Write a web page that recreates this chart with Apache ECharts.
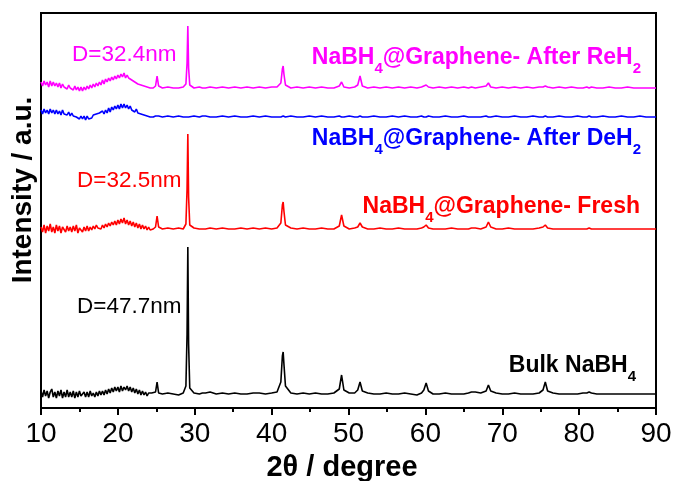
<!DOCTYPE html>
<html>
<head>
<meta charset="utf-8">
<script src="https://cdn.jsdelivr.net/npm/echarts@6/dist/echarts.min.js"></script>
<style>html,body{margin:0;padding:0;background:#fff}#c{width:677px;height:481px}</style>
</head>
<body>
<div id="c"></div>
<script>
// 2θ grid (degrees), shared by all patterns
const twoTheta = [
  10.0,10.2,10.4,10.6,10.8,11.0,11.2,11.4,11.6,11.8,
  12.0,12.2,12.4,12.6,12.8,13.0,13.2,13.4,13.6,13.8,
  14.0,14.2,14.4,14.6,14.8,15.0,15.2,15.4,15.6,15.8,
  16.0,16.2,16.4,16.6,16.8,17.0,17.2,17.4,17.6,17.8,
  18.0,18.2,18.4,18.6,18.8,19.0,19.2,19.4,19.6,19.8,
  20.0,20.2,20.4,20.6,20.8,21.0,21.2,21.4,21.6,21.8,
  22.0,22.2,22.4,22.6,22.8,23.0,23.2,23.4,23.6,23.8,
  24.0,24.2,24.4,24.6,24.9,25.1,25.3,25.8,26.5,27.2,
  27.9,28.5,28.85,29.0,29.1,29.2,29.35,29.9,30.6,31.0,
  31.2,31.4,32.0,32.8,33.6,34.4,35.2,36.0,36.8,37.6,
  38.4,39.2,40.0,40.7,41.2,41.4,41.5,41.6,41.8,42.5,
  43.3,44.1,44.9,45.7,46.5,47.3,48.1,48.8,49.1,49.4,
  50.1,50.8,51.2,51.5,51.8,52.5,53.3,54.1,54.9,55.7,
  56.5,57.3,58.1,58.9,59.5,59.8,60.1,60.4,61.0,61.8,
  62.6,63.4,64.2,65.0,65.6,66.0,66.2,66.5,67.2,67.9,
  68.2,68.5,69.2,70.0,70.8,71.6,72.4,73.2,74.0,74.8,
  75.3,75.6,75.9,76.6,77.4,78.2,79.0,79.8,80.5,81.0,
  81.3,81.6,82.3,83.1,83.9,84.7,85.5,86.3,87.1,87.9,
  88.7,89.4,90.0
];

// Bulk NaBH4 intensity (a.u.)
const bulkIntensity = [
  3,-3,4,-2,3,-4,2,5,-3,2,
  -4,3,-2,4,-4,2,-3,4,-3,2,
  -3,3,-4,2,-3,3,-2,-4,2,-3,
  2,-3,3,-2,1,-3,2,-2,3,-1,
  3,-1,4,0,5,1,6,2,7,3,
  7,2,8,3,7,4,8,3,7,2,
  6,1,5,0,4,-1,3,-1,2,-2,
  1,-1,1,0,2,12,1,0,1,0,
  -1,1,8,60,147,50,6,1,0,1,
  3,1,2,0,1,0,1,0,0,1,
  1,0,1,2,12,38,42,30,8,1,
  0,1,0,1,0,0,1,5,19,4,
  1,1,4,12,3,1,0,0,1,0,
  0,1,0,-1,1,4,11,3,0,0,
  1,0,0,0,1,2,3,2,1,3,
  9,3,1,0,0,1,0,0,0,1,
  4,12,3,1,0,0,0,0,1,1,
  2,1,0,0,0,0,0,0,0,0,
  0,0,0
];

// NaBH4@Graphene - Fresh
const freshIntensity = [
  2,-3,4,-4,3,-2,5,-3,2,-4,
  4,-2,3,-4,2,4,-3,3,-2,2,
  -3,3,-2,4,-4,1,3,-3,2,-2,
  3,-2,2,-1,3,0,4,1,3,0,
  4,1,5,2,6,3,7,4,8,4,
  9,5,10,6,11,5,9,4,8,3,
  7,2,6,1,5,0,4,0,3,-1,
  2,-1,1,0,2,13,2,0,1,0,
  1,0,5,40,95,32,4,1,0,0,
  1,0,1,0,1,0,0,1,0,1,
  0,1,0,1,6,24,27,18,4,1,
  0,1,0,0,1,0,0,3,14,3,
  0,1,2,6,2,0,0,1,0,0,
  1,0,0,0,1,2,4,1,0,0,
  0,1,0,0,0,1,2,1,0,2,
  7,2,0,0,1,0,0,0,0,1,
  2,4,1,0,0,0,0,0,0,0,
  1,0,0,0,0,0,0,0,0,0,
  0,0,0
];

// NaBH4@Graphene - After DeH2
const dehydIntensity = [
  7,3,8,4,7,3,8,4,7,3,
  7,3,6,2,7,3,5,2,5,1,
  4,1,3,0,2,-2,1,-2,1,-3,
  1,-2,0,-1,2,0,3,1,4,2,
  6,3,7,4,9,5,10,7,11,8,
  12,8,13,9,13,9,12,8,11,7,
  9,5,8,4,6,3,5,2,3,1,
  2,0,1,0,1,0,1,0,1,0,
  1,0,0,1,1,0,0,1,0,1,
  0,1,0,0,1,0,1,0,0,1,
  0,1,0,0,0,1,1,0,0,1,
  0,0,1,0,1,0,0,1,0,0,
  1,0,0,1,0,0,1,0,0,1,
  0,1,0,0,1,0,0,1,0,0,
  1,0,0,1,0,0,1,0,0,1,
  0,0,1,0,0,1,0,0,1,0,
  0,1,0,0,1,0,0,1,0,0,
  1,0,0,1,0,0,1,0,0,1,
  0,0,0
];

// NaBH4@Graphene - After ReH2
const rehydIntensity = [
  6,2,7,3,6,1,7,2,6,2,
  5,1,5,0,4,1,3,-1,3,0,
  2,-2,2,-2,1,-3,1,-3,1,-2,
  2,-1,3,0,4,1,5,2,6,3,
  8,4,9,6,10,7,11,8,12,9,
  13,10,14,11,15,10,13,10,12,8,
  10,6,8,4,6,3,5,2,3,1,
  2,0,1,0,2,12,2,0,1,0,
  0,1,4,25,62,20,3,0,1,0,
  1,0,1,0,1,0,1,0,1,0,
  1,0,1,1,5,19,22,14,3,0,
  1,0,1,0,1,0,0,2,6,1,
  0,1,3,12,2,0,1,0,1,0,
  1,0,1,0,1,2,3,1,0,1,
  0,1,0,1,0,1,1,0,1,2,
  5,1,0,1,0,1,0,1,0,1,
  1,2,1,0,1,0,1,0,0,1,
  0,1,0,0,1,0,0,1,0,0,
  0,0,0
];

const seriesNames = ['Bulk NaBH4', 'NaBH4@Graphene- Fresh', 'NaBH4@Graphene- After DeH2', 'NaBH4@Graphene- After ReH2'];
const seriesOffsets = [14, 179, 291, 320];
const seriesColors = ['#000000', '#ff0000', '#0000ff', '#ff00ff'];
const xTickValues = [10, 20, 30, 40, 50, 60, 70, 80, 90];

const FONT = '"Liberation Sans", Arial, sans-serif';
const patterns = [bulkIntensity, freshIntensity, dehydIntensity, rehydIntensity];

const series = patterns.map((arr, k) => ({
  name: seriesNames[k],
  type: 'line',
  showSymbol: false,
  symbol: 'none',
  silent: true,
  lineStyle: { color: seriesColors[k], width: 1.6 },
  data: twoTheta.map((t, i) => [t, arr[i] + seriesOffsets[k]])
}));

// text measuring for labels with subscripts
const mctx = document.createElement('canvas').getContext('2d');
function textWidth(t, font) { mctx.font = font; return mctx.measureText(t).width; }

function subLabel(parts, color, anchorX, align, y) {
  const mainFont = 'bold 23px ' + FONT;
  const subFont = 'bold 15px ' + FONT;
  const widths = parts.map(p => textWidth(p[0], p[1] ? subFont : mainFont));
  const total = widths.reduce((a, b) => a + b, 0);
  let x = align === 'right' ? anchorX - total : anchorX;
  const els = [];
  parts.forEach((p, i) => {
    els.push({
      type: 'text', x: x, y: p[1] ? y + 11 : y, silent: true, z: 100,
      style: { text: p[0], fill: color, font: p[1] ? subFont : mainFont, textAlign: 'left', textVerticalAlign: 'middle' }
    });
    x += widths[i];
  });
  return els;
}
function plainLabel(text, color, x, y) {
  return {
    type: 'text', x: x, y: y, silent: true, z: 100,
    style: { text: text, fill: color, font: '22.5px ' + FONT, textAlign: 'left', textVerticalAlign: 'middle' }
  };
}

const graphics = [].concat(
  [plainLabel('D=32.4nm', '#ff00ff', 72, 55)],
  subLabel([['NaBH', false], ['4', true], ['@Graphene- After ReH', false], ['2', true]], '#ff00ff', 641, 'right', 58),
  subLabel([['NaBH', false], ['4', true], ['@Graphene- After DeH', false], ['2', true]], '#0000ff', 641, 'right', 139),
  [plainLabel('D=32.5nm', '#ff0000', 77, 181)],
  subLabel([['NaBH', false], ['4', true], ['@Graphene- Fresh', false]], '#ff0000', 640, 'right', 207),
  [plainLabel('D=47.7nm', '#000000', 77, 307)],
  subLabel([['Bulk NaBH', false], ['4', true]], '#000000', 636, 'right', 366),
  [{
    type: 'text', x: 23, y: 190, rotation: Math.PI / 2, silent: true,
    style: { text: 'Intensity / a.u.', fill: '#000', font: 'bold 28px ' + FONT, textAlign: 'center', textVerticalAlign: 'middle' }
  },
  {
    type: 'text', x: 342, y: 468, silent: true,
    style: { text: '2θ / degree', fill: '#000', font: 'bold 29px ' + FONT, textAlign: 'center', textVerticalAlign: 'middle' }
  }]
);

const chart = echarts.init(document.getElementById('c'));
chart.setOption({
  animation: false,
  backgroundColor: '#fff',
  grid: { left: 41, right: 21, top: 13, bottom: 73, show: true, borderColor: '#000', borderWidth: 2, outerBoundsMode: 'none' },
  xAxis: {
    type: 'value', min: 10, max: 90, interval: 10,
    axisLine: { show: true, onZero: false, lineStyle: { color: '#000', width: 2 } },
    axisTick: { show: true, length: 7, lineStyle: { color: '#000', width: 2 } },
    minorTick: { show: true, splitNumber: 2, length: 4, lineStyle: { color: '#000', width: 2 } },
    splitLine: { show: false },
    axisLabel: {
      color: '#000', fontSize: 28, fontFamily: FONT, margin: 12,
      formatter: v => (xTickValues.indexOf(v) >= 0 ? String(v) : '')
    }
  },
  yAxis: {
    type: 'value', min: 0, max: 395,
    axisLine: { show: true, lineStyle: { color: '#000', width: 2 } },
    axisTick: { show: false }, axisLabel: { show: false }, splitLine: { show: false }
  },
  series: series,
  graphic: graphics
});
</script>
</body>
</html>
